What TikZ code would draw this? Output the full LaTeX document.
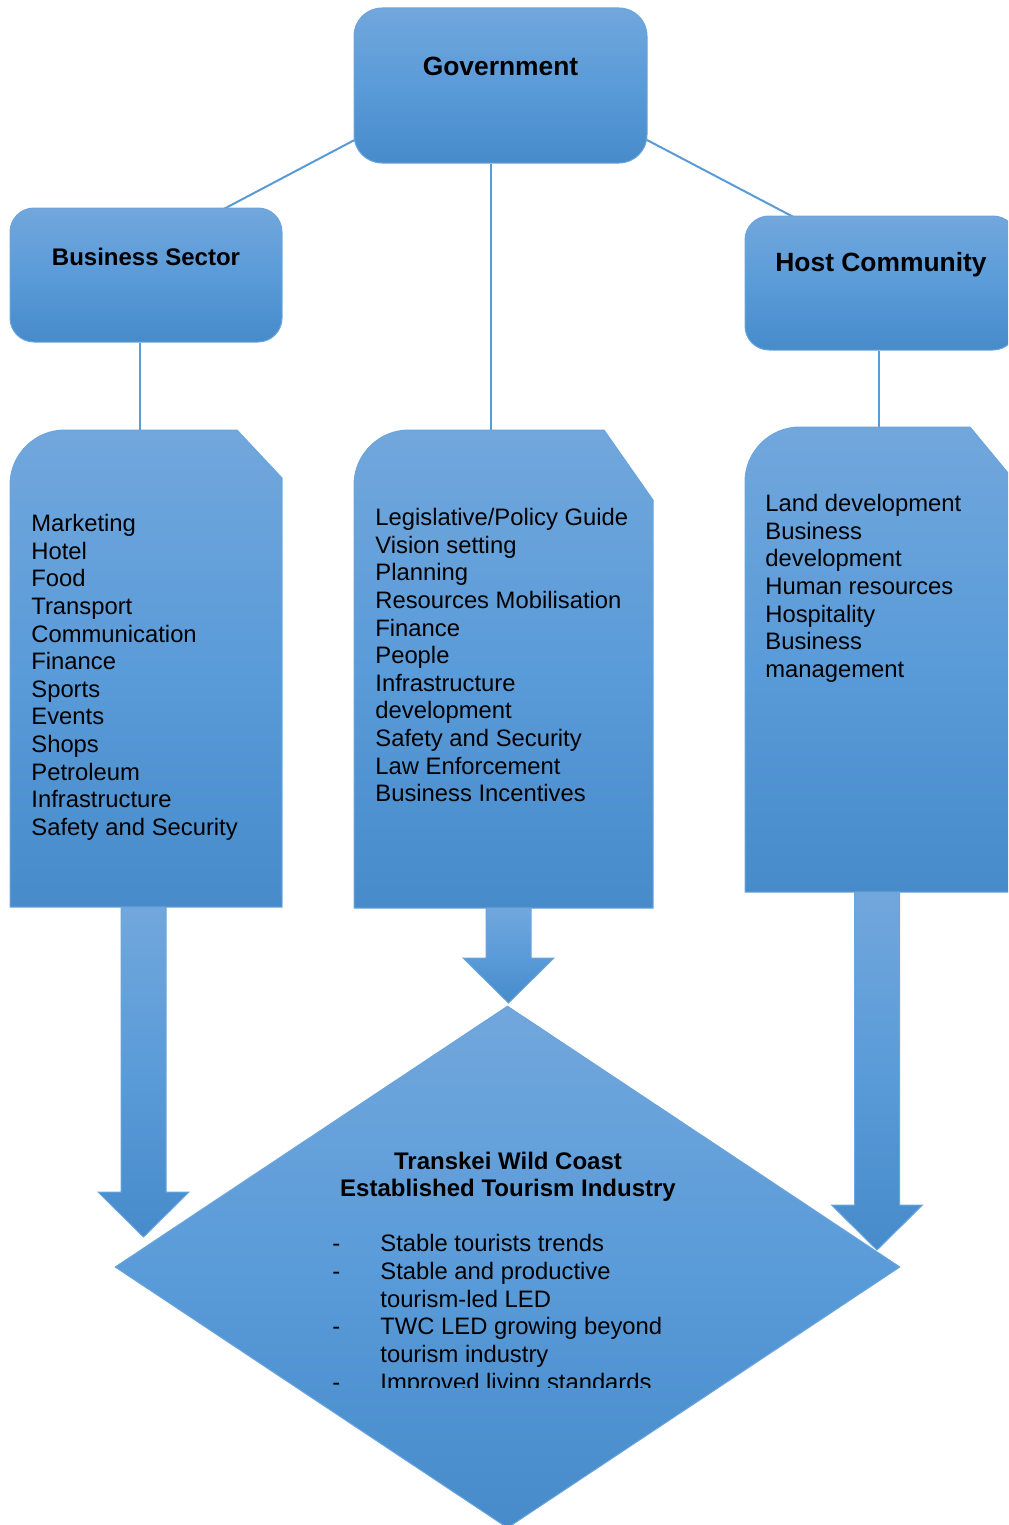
\documentclass[tikz,border=0pt]{standalone}
\usepackage{fontspec}
\setmainfont{Liberation Sans}
\usetikzlibrary{calc, backgrounds, shapes.geometric}
\definecolor{wcLight}{HTML}{71A7DC}
\definecolor{wcMid}{HTML}{5A9BD9}
\definecolor{wcDark}{HTML}{478BCA}
\definecolor{wcEdge}{HTML}{6AA5DB}
\definecolor{wcLine}{HTML}{5B9BD5}

\tikzset{
  wcshade/.style={top color=wcLight, bottom color=wcDark, middle color=wcMid, draw=wcEdge, line width=0.5pt},
  titlebox/.style={wcshade, rounded corners=12pt, inner sep=0pt, font=\bfseries\fontsize{12}{14}\selectfont},
  listtext/.style={anchor=north west, inner sep=0pt, align=left, font=\fontsize{11.9}{13.8}\selectfont},
  link/.style={draw=wcLine, line width=1pt},
}

\newcommand{\blockarrow}[2]{%
  \path[wcshade] let \p1=(#1), \p2=(#2) in
    (\x1-11.25pt,\y1) -- (\x1+11.25pt,\y1) -- (\x1+11.25pt,\y2+22.5pt)
    -- (\x1+22.75pt,\y2+22.5pt) -- (\x2,\y2) -- (\x1-22.75pt,\y2+22.5pt)
    -- (\x1-11.25pt,\y2+22.5pt) -- cycle;}

\begin{document}
\begin{tikzpicture}[x=0.5pt, y=-0.5pt]
\useasboundingbox (0,0) rectangle (1008,1525);
\clip (0,0) rectangle (1008,1525);

\node[titlebox, rounded corners=14pt, minimum width=146.5pt, text height=33.75pt, text depth=43.75pt,
  font=\bfseries\fontsize{13.2}{15}\selectfont] (gov) at (500.5,85.5) {Government};
\node[titlebox, minimum width=136pt, text height=28.5pt, text depth=38.5pt] (bus) at (146,275) {Business Sector};
\node[titlebox, minimum width=136pt, text height=27.75pt, text depth=39.25pt,
  font=\bfseries\fontsize{13.2}{15}\selectfont] (host) at (881,283) {Host Community};

\path[wcshade] (10,907) -- (10,485) .. controls (10,454.6) and (34.6,430) .. (65,430)
  -- (237,430) -- (282,478) -- (282,907) -- cycle;
\path[wcshade] (354,908) -- (354,485) .. controls (354,454.6) and (378.6,430) .. (409,430)
  -- (604,430) -- (653,500) -- (653,908) -- cycle;
\path[wcshade] (745,892) -- (745,482) .. controls (745,451.6) and (769.6,427) .. (800,427)
  -- (970,427) -- (1018,485) -- (1018,892) -- cycle;

\coordinate (sectorlist) at (140,430);
\coordinate (govlist) at (491,430);
\coordinate (hostlist) at (879,427);

\node[listtext] (sectoritems) at (31,514) {Marketing\\Hotel\\Food\\Transport\\Communication\\Finance\\Sports\\Events\\Shops\\Petroleum\\Infrastructure\\Safety and Security};
\node[listtext] (govitems) at (375,508) {Legislative/Policy Guide\\Vision setting\\Planning\\Resources Mobilisation\\Finance\\People\\Infrastructure\\development\\Safety and Security\\Law Enforcement\\Business Incentives};
\node[listtext] (hostitems) at (765,494) {Land development\\Business\\development\\Human resources\\Hospitality\\Business\\management};

\node[wcshade, diamond, minimum width=392.5pt, minimum height=261pt, inner sep=0pt] (goal) at (507.5,1267) {};
\node[anchor=north, inner sep=0pt, align=center, font=\bfseries\fontsize{12}{13.5}\selectfont] (goaltitle) at (508,1152)
  {Transkei Wild Coast\\Established Tourism Industry};
\begin{scope}
  \clip (300,1200) rectangle (720,1387);
  \node[anchor=north west, inner sep=0pt, font=\fontsize{11.9}{13.9}\selectfont] (goalitems) at (332,1231.7)
    {\begin{tabular}{@{}p{24pt}@{}l@{}}
      - & Stable tourists trends\\
      - & Stable and productive\\
        & tourism-led LED\\
      - & TWC LED growing beyond\\
        & tourism industry\\
      - & Improved living standards
    \end{tabular}};
\end{scope}

\coordinate (sectorout) at (143.5,907);
\coordinate (sectorin) at (143.5,1237);
\coordinate (govout) at (508.5,908);
\coordinate (govin) at (508.5,1003);
\coordinate (hostout) at (877,892);
\coordinate (hostin) at (877,1250);
\blockarrow{sectorout}{sectorin}
\blockarrow{govout}{govin}
\blockarrow{hostout}{hostin}

\begin{scope}[on background layer]
  \draw[link] ($(gov.center)+(0,-22.5)$) -- ($(bus.center)+(0,-25)$);
  \draw[link] ($(gov.center)+(0,-22.5)$) -- ($(host.center)+(0,-20)$);
  \draw[link] (govlist) -- (govlist |- gov.south);
  \draw[link] (sectorlist) -- (sectorlist |- bus.south);
  \draw[link] (hostlist) -- (hostlist |- host.south);
\end{scope}
\end{tikzpicture}
\end{document}
